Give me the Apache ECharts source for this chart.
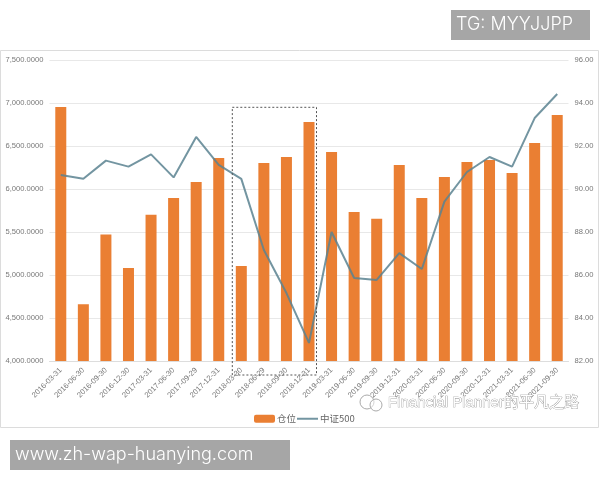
<!DOCTYPE html>
<html>
<head>
<meta charset="utf-8">
<style>
html,body{margin:0;padding:0;background:#fff;}
#chart{width:600px;height:480px;filter:blur(0.3px);}
</style>
<script src="https://cdn.jsdelivr.net/npm/echarts@6/dist/echarts.min.js"></script>
</head>
<body>
<div id="chart"></div>
<script>
var dates = ['2016-03-31','2016-06-30','2016-09-30','2016-12-30','2017-03-31','2017-06-30','2017-09-29','2017-12-31',
	'2018-03-30','2018-06-29','2018-09-30','2018-12-31','2019-03-31','2019-06-30','2019-09-30','2019-12-31',
	'2020-03-31','2020-06-30','2020-09-30','2020-12-31','2021-03-31','2021-06-30','2021-09-30'];
var position = [6953,4660,5470,5081,5700,5895,6081,6360,5105,6302,6372,6779,6430,5733,5655,6279,5895,6140,6314,6337,6186,6535,6860];
var csi500 = [90.65,90.48,91.32,91.04,91.61,90.54,92.42,91.12,90.47,87.16,85.16,82.84,88.0,85.86,85.77,87.02,86.28,89.41,90.79,91.49,91.04,93.3,94.42];

var axisText = {color:'#777',fontSize:7.6,fontFamily:'Liberation Sans'};
var myChart = echarts.init(document.getElementById('chart'),null,{renderer:'canvas'});
var option = {
	animation:false,
	backgroundColor:'#fff',
	legend:{
		left:249,
		top:409,
		itemWidth:21,
		itemHeight:8,
		itemGap:0,
		textStyle:{color:'#666',fontSize:9.5,padding:[0,0,0,-3],fontFamily:'Noto Sans CJK SC'},
		data:['仓位',{name:'中证500',itemStyle:{opacity:0}}]
	},
	grid:{left:49.5,right:31.5,top:60,bottom:119},
	xAxis:{
		type:'category',
		data:dates,
		axisLine:{lineStyle:{color:'#ddd'}},
		axisTick:{show:false},
		axisLabel:{interval:0,rotate:45,margin:8,color:'#777',fontSize:7.6,fontFamily:'Liberation Sans'}
	},
	yAxis:[
		{
			type:'value',min:4000,max:7500,interval:500,
			axisLine:{show:false},axisTick:{show:false},
			splitLine:{lineStyle:{color:'#e8e8e8'}},
			axisLabel:Object.assign({margin:6,formatter:function(v){return v.toLocaleString('en-US')+'.0000';}},axisText)
		},
		{
			type:'value',min:82,max:96,interval:2,
			axisLine:{show:false},axisTick:{show:false},
			splitLine:{show:false},
			axisLabel:Object.assign({margin:6,formatter:function(v){return v.toFixed(2);}},axisText)
		}
	],
	series:[
		{name:'仓位',type:'bar',data:position,barWidth:11,itemStyle:{color:'#ea7f33'}},
		{name:'中证500',type:'line',yAxisIndex:1,data:csi500,showSymbol:false,symbol:'none',
			itemStyle:{color:'#5b8290'},lineStyle:{color:'#5b8290',width:2,opacity:0.85},z:5}
	]
};
myChart.setOption(option);

// 边框、虚线框、水印和灰色标签
var boxLeft = myChart.convertToPixel({xAxisIndex:0},dates[8])-9;
var boxRight = myChart.convertToPixel({xAxisIndex:0},dates[11])+7.5;
var boxTop = myChart.convertToPixel({yAxisIndex:0},6950);
myChart.setOption({graphic:[
	{type:'rect',silent:true,z:-1,shape:{x:0.5,y:50.5,width:598,height:377},style:{fill:'none',stroke:'#dcdcdc'}},
	{type:'rect',silent:true,z:10,shape:{x:boxLeft,y:boxTop,width:boxRight-boxLeft,height:375-boxTop},
		style:{fill:'none',stroke:'#555',lineWidth:1,lineDash:[2,2]}},
	{type:'rect',silent:true,shape:{x:451,y:10,width:139,height:30},style:{fill:'#a6a6a6'}},
	{type:'text',silent:true,x:456,y:25,style:{text:'TG: MYYJJPP',fill:'#fff',fontSize:18,fontWeight:300,fontFamily:'Inter',verticalAlign:'middle'}},
	{type:'rect',silent:true,shape:{x:10,y:440,width:280,height:30},style:{fill:'#a6a6a6'}},
	{type:'text',silent:true,x:15,y:455,style:{text:'www.zh-wap-huanying.com',fill:'#fff',fontSize:18,fontWeight:300,fontFamily:'Inter',verticalAlign:'middle'}},
	{type:'circle',silent:true,z:10,shape:{cx:367,cy:402,r:7},style:{fill:'rgba(255,255,255,0.5)',stroke:'#aaa'}},
	{type:'circle',silent:true,z:10,shape:{cx:376,cy:405,r:6},style:{fill:'rgba(255,255,255,0.5)',stroke:'#aaa'}},
	{type:'text',silent:true,z:10,x:388,y:403,style:{text:'Financial Planner的平凡之路',fill:'#fff',stroke:'#8a8a8a',lineWidth:0.7,
		fontSize:15,fontFamily:'Liberation Sans, Noto Sans CJK SC',verticalAlign:'middle'}}
]});
</script>
</body>
</html>
